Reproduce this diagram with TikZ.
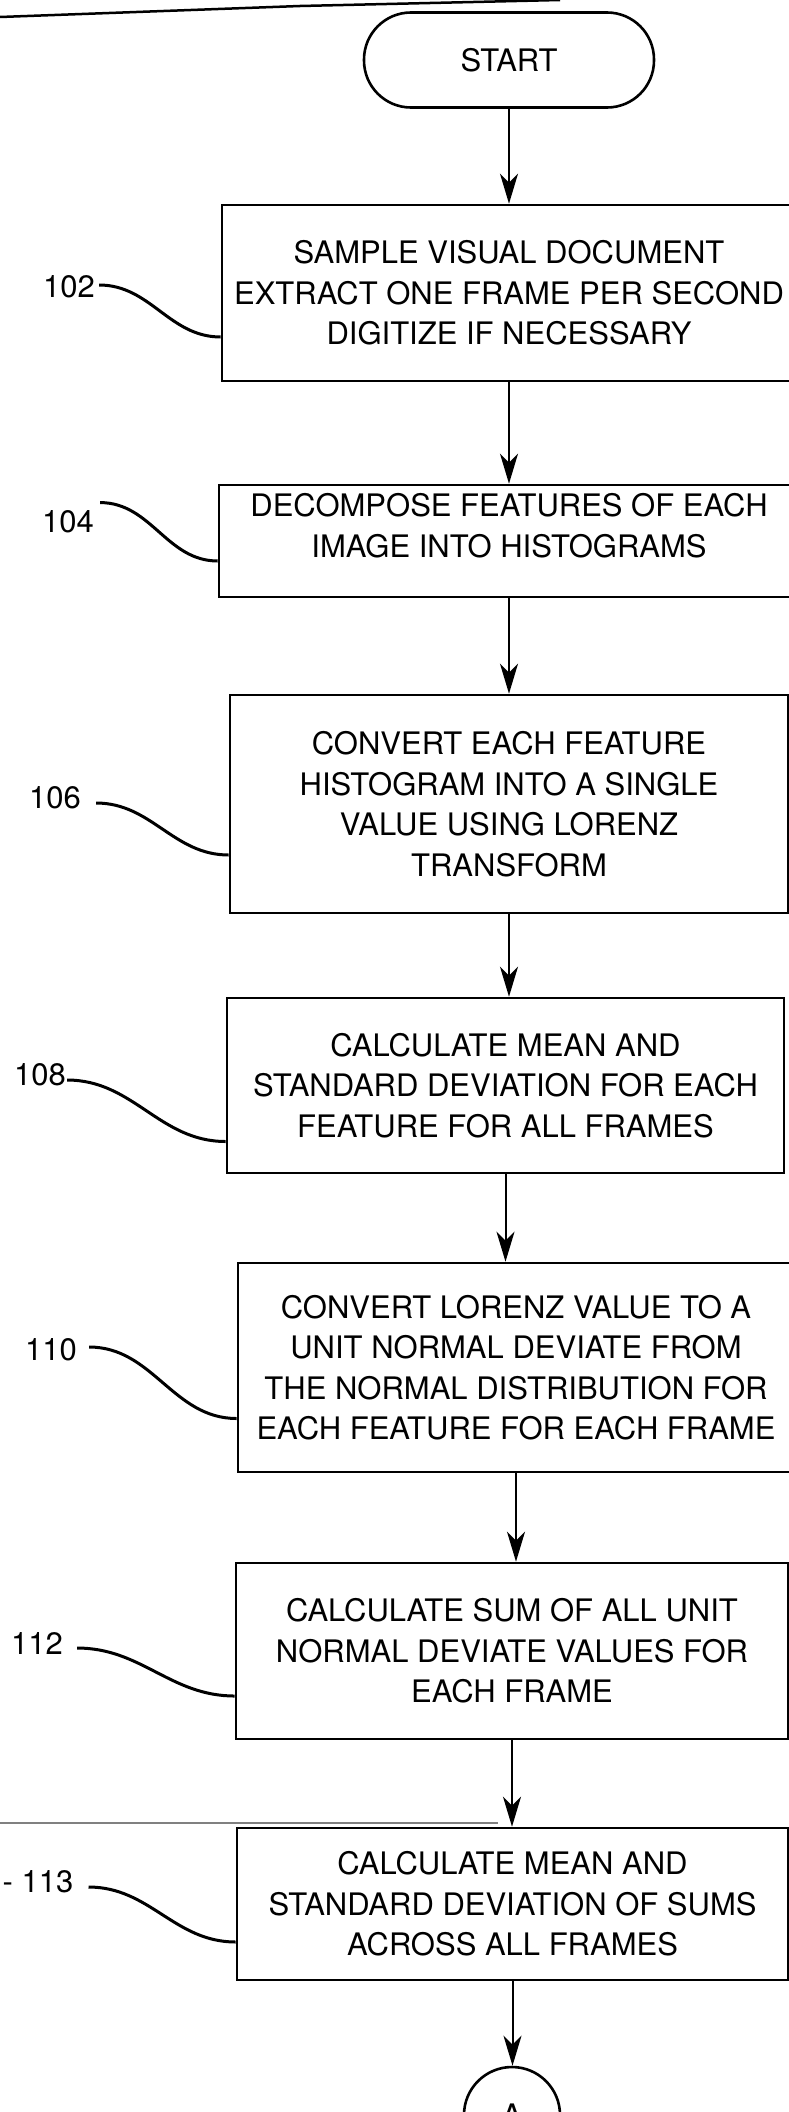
\documentclass[tikz,border=0pt]{standalone}
\usepackage{fontspec}
\setmainfont{TeX Gyre Heros}
\usetikzlibrary{arrows.meta}

\begin{document}
\begin{tikzpicture}[x=1pt,y=-1pt]
\tikzstyle{every node}=[font=\fontsize{31}{40.5}\selectfont,inner sep=0pt]
\tikzstyle{stepbox}=[draw,line width=2.6pt,align=center]
\tikzstyle{term}=[draw,line width=2.6pt,rounded corners=47pt,minimum width=290pt,minimum height=95pt]
\tikzstyle{flow}=[line width=2pt,-{Stealth[length=30pt,width=18pt,inset=9pt]}]
\tikzstyle{lead}=[line width=3pt,out=0,in=180]

\useasboundingbox (0,0) rectangle (789,2112);

% scan marks
\draw[line width=2.5pt] (0,17) -- (300,6) -- (560,0);
\draw[gray,line width=2pt] (0,1823) -- (498,1823);

\node[term] (start) at (509,60) {START};
\node[stepbox,minimum width=574pt,minimum height=176pt] (sample) at (509,293)
  {SAMPLE VISUAL DOCUMENT\\EXTRACT ONE FRAME PER SECOND\\DIGITIZE IF NECESSARY};
\node[stepbox,minimum width=580pt,minimum height=112pt] (decomp) at (509,541)
  {\raisebox{12pt}[\height][\depth]{\begin{tabular}{@{}c@{}}DECOMPOSE FEATURES OF EACH\\IMAGE INTO HISTOGRAMS\end{tabular}}};
\node[stepbox,minimum width=558pt,minimum height=218pt] (lorenz) at (509,804)
  {CONVERT EACH FEATURE\\HISTOGRAM INTO A SINGLE\\VALUE USING LORENZ\\TRANSFORM};
\node[stepbox,minimum width=557pt,minimum height=175pt] (meanstd) at (505.5,1085.5)
  {CALCULATE MEAN AND\\STANDARD DEVIATION FOR EACH\\FEATURE FOR ALL FRAMES};
\node[stepbox,minimum width=556pt,minimum height=209pt] (unitnorm) at (516,1367.5)
  {CONVERT LORENZ VALUE TO A\\UNIT NORMAL DEVIATE FROM\\THE NORMAL DISTRIBUTION FOR\\EACH FEATURE FOR EACH FRAME};
\node[stepbox,minimum width=552pt,minimum height=176pt] (sumdev) at (512,1651)
  {CALCULATE SUM OF ALL UNIT\\NORMAL DEVIATE VALUES FOR\\EACH FRAME};
\node[stepbox,minimum width=551pt,minimum height=152pt] (sumstat) at (512.5,1904)
  {CALCULATE MEAN AND\\STANDARD DEVIATION OF SUMS\\ACROSS ALL FRAMES};
\node[draw,circle,line width=2.6pt,minimum size=96pt] (conA) at (512,2115) {A};

\draw[flow] (start) -- (sample);
\draw[flow] (sample) -- (decomp);
\draw[flow] (decomp) -- (lorenz);
\draw[flow] (lorenz.south) -- (lorenz.south |- meanstd.north);
\draw[flow] (meanstd.south) -- (meanstd.south |- unitnorm.north);
\draw[flow] (unitnorm.south) -- (unitnorm.south |- sumdev.north);
\draw[flow] (sumdev.south) -- (sumdev.south |- sumstat.north);
\draw[flow] (sumstat.south) -- (sumstat.south |- conA.north);

% reference numerals
\node (n102) at (69,287) {102};
\node (n104) at (68,522) {104};
\node (n106) at (55,798) {106};
\node (n108) at (40,1075) {108};
\node (n110) at (51,1350) {110};
\node (n112) at (37,1643) {112};
\node (n113) at (38,1882) {- 113};

\draw[lead] ([xshift=4pt,yshift=2pt]n102.east) to ([yshift=-44pt]sample.west);
\draw[lead] ([xshift=6pt,yshift=8pt]n104.north east) to ([yshift=-20pt]decomp.west);
\draw[lead] ([xshift=15pt,yshift=-5pt]n106.east) to ([yshift=-51pt]lorenz.west);
\draw[lead] ([xshift=1pt,yshift=-5pt]n108.east) to ([yshift=-56pt]meanstd.west);
\draw[lead] ([xshift=12pt,yshift=3pt]n110.east) to ([yshift=-51pt]unitnorm.west);
\draw[lead] ([xshift=14pt,yshift=-5pt]n112.east) to ([yshift=-45pt]sumdev.west);
\draw[lead] ([xshift=15pt,yshift=-5pt]n113.east) to ([yshift=-38pt]sumstat.west);
\end{tikzpicture}
\end{document}
